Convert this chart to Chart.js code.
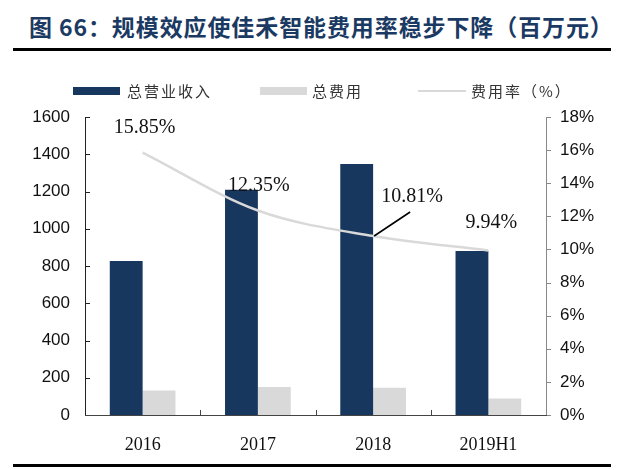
<!DOCTYPE html>
<html>
<head>
<meta charset="utf-8">
<script src="https://cdn.jsdelivr.net/npm/chart.js@4.4.1/dist/chart.umd.min.js"></script>
<style>
  html, body { margin:0; padding:0; background:#fff; }
  #wrap { position:relative; width:640px; height:470px; overflow:hidden; }
  #title { position:absolute; left:29px; top:11px; font-family:"Noto Sans CJK SC","Liberation Serif",serif; font-weight:bold; font-size:23px; color:#1b3a63; letter-spacing:0.9px; white-space:nowrap; line-height:30px; }
  #rule1 { position:absolute; left:13px; top:48px; width:598px; height:3px; background:#000; }
  #rule2 { position:absolute; left:13px; top:464px; width:598px; height:3px; background:#000; }
  #c { position:absolute; left:0; top:0; }
</style>
</head>
<body>
<div id="wrap">
  <div id="title">图 66：规模效应使佳禾智能费用率稳步下降（百万元）</div>
  <div id="rule1"></div>
  <canvas id="c" width="640" height="470"></canvas>
  <div id="rule2"></div>
</div>
<script>
const categories = ["2016", "2017", "2018", "2019H1"];
const revenue = [827, 1210, 1348, 880];
const expense = [131, 150, 146, 88];
const expenseRate = [15.85, 12.35, 10.81, 9.94];
const leftTicks = [0, 200, 400, 600, 800, 1000, 1200, 1400, 1600];
const rightTicks = [0, 2, 4, 6, 8, 10, 12, 14, 16, 18];
const seriesNames = ["总营业收入", "总费用", "费用率（%）"];

const NAVY = "#17375E", GRAY = "#D9D9D9", LINE = "#D9D9D9";

const customDraw = {
  id: "customDraw",
  afterDraw(chart) {
    const ctx = chart.ctx;
    const x = chart.scales.x, y = chart.scales.y, y1 = chart.scales.y1;
    const top = chart.chartArea.top, bottom = chart.chartArea.bottom;
    const left = chart.chartArea.left, right = chart.chartArea.right;
    ctx.save();
    // left axis
    ctx.strokeStyle = "#222"; ctx.lineWidth = 1;
    ctx.beginPath(); ctx.moveTo(left + 0.5, top); ctx.lineTo(left + 0.5, bottom); ctx.stroke();
    leftTicks.forEach(v => {
      const py = Math.round(y.getPixelForValue(v)) + 0.5;
      ctx.beginPath(); ctx.moveTo(left, py); ctx.lineTo(left + 5, py); ctx.stroke();
    });
    // right axis
    ctx.strokeStyle = "#888";
    ctx.beginPath(); ctx.moveTo(right + 0.5, top); ctx.lineTo(right + 0.5, bottom); ctx.stroke();
    rightTicks.forEach(v => {
      const py = Math.round(y1.getPixelForValue(v)) + 0.5;
      ctx.beginPath(); ctx.moveTo(right, py); ctx.lineTo(right + 5, py); ctx.stroke();
    });
    // x axis
    ctx.strokeStyle = "#444";
    ctx.beginPath(); ctx.moveTo(left, bottom + 0.5); ctx.lineTo(right + 1, bottom + 0.5); ctx.stroke();
    const step = (right - left) / categories.length;
    for (let i = 1; i < categories.length; i++) {
      const px = Math.round(left + step * i) + 0.5;
      ctx.beginPath(); ctx.moveTo(px, bottom); ctx.lineTo(px, bottom - 5); ctx.stroke();
    }
    // data labels for rate line
    const meta = chart.getDatasetMeta(2);
    const offs = [[2, -25], [1, -25], [39, -39], [3, -28]];
    ctx.font = "20px 'Liberation Serif', serif";
    ctx.fillStyle = "#111"; ctx.textAlign = "center"; ctx.textBaseline = "middle";
    meta.data.forEach((pt, i) => {
      const [dx, dy] = offs[i];
      ctx.fillText(expenseRate[i].toFixed(2) + "%", pt.x + dx, pt.y + dy);
      if (i === 2) {
        ctx.strokeStyle = "#000"; ctx.lineWidth = 1.6;
        ctx.beginPath(); ctx.moveTo(pt.x + 1, pt.y); ctx.lineTo(pt.x + 37, pt.y - 24); ctx.stroke();
      }
    });
    // legend
    ctx.font = "15px 'Noto Sans CJK SC', sans-serif";
    try { ctx.letterSpacing = "2px"; } catch (e) {}
    ctx.textAlign = "left"; ctx.fillStyle = "#333";
    const ly = 91;
    ctx.fillStyle = NAVY; ctx.fillRect(73, 87, 47, 8);
    ctx.fillStyle = "#333"; ctx.fillText(seriesNames[0], 127, ly);
    ctx.fillStyle = GRAY; ctx.fillRect(260, 87, 47, 8);
    ctx.fillStyle = "#333"; ctx.fillText(seriesNames[1], 312, ly);
    ctx.strokeStyle = LINE; ctx.lineWidth = 2;
    ctx.beginPath(); ctx.moveTo(418, ly); ctx.lineTo(466, ly); ctx.stroke();
    ctx.fillStyle = "#333"; ctx.fillText(seriesNames[2], 471, ly);
    ctx.restore();
  }
};

new Chart(document.getElementById("c"), {
  data: {
    labels: categories,
    datasets: [
      { type: "bar", label: seriesNames[0], data: revenue, backgroundColor: NAVY, yAxisID: "y", order: 2,
        categoryPercentage: 0.57, barPercentage: 1.0 },
      { type: "bar", label: seriesNames[1], data: expense, backgroundColor: GRAY, yAxisID: "y", order: 2,
        categoryPercentage: 0.57, barPercentage: 1.0 },
      { type: "line", label: seriesNames[2], data: expenseRate, borderColor: LINE, borderWidth: 2.5,
        pointRadius: 0, cubicInterpolationMode: "monotone", yAxisID: "y1", order: 1 }
    ]
  },
  options: {
    responsive: false,
    animation: false,
    devicePixelRatio: 1,
    layout: { padding: { top: 117, left: 0, right: 0, bottom: 0 } },
    plugins: { legend: { display: false }, tooltip: { enabled: false }, title: { display: false } },
    scales: {
      x: {
        grid: { display: false }, border: { display: false },
        ticks: { color: "#111", font: { family: "'Liberation Serif', serif", size: 18 }, padding: 11 },
        afterFit(s) { s.height = 55; }
      },
      y: {
        position: "left", min: 0, max: 1600,
        grid: { display: false, drawTicks: false }, border: { display: false },
        ticks: { stepSize: 200, color: "#111", font: { family: "'Liberation Sans', sans-serif", size: 17 }, padding: 15,
          callback: v => String(v) },
        afterFit(s) { s.width = 85; }
      },
      y1: {
        position: "right", min: 0, max: 18,
        grid: { display: false, drawTicks: false }, border: { display: false },
        ticks: { stepSize: 2, color: "#111", font: { family: "'Liberation Sans', sans-serif", size: 17 }, padding: 14,
          callback: v => v + "%" },
        afterFit(s) { s.width = 94; }
      }
    }
  },
  plugins: [customDraw]
});
</script>
</body>
</html>
